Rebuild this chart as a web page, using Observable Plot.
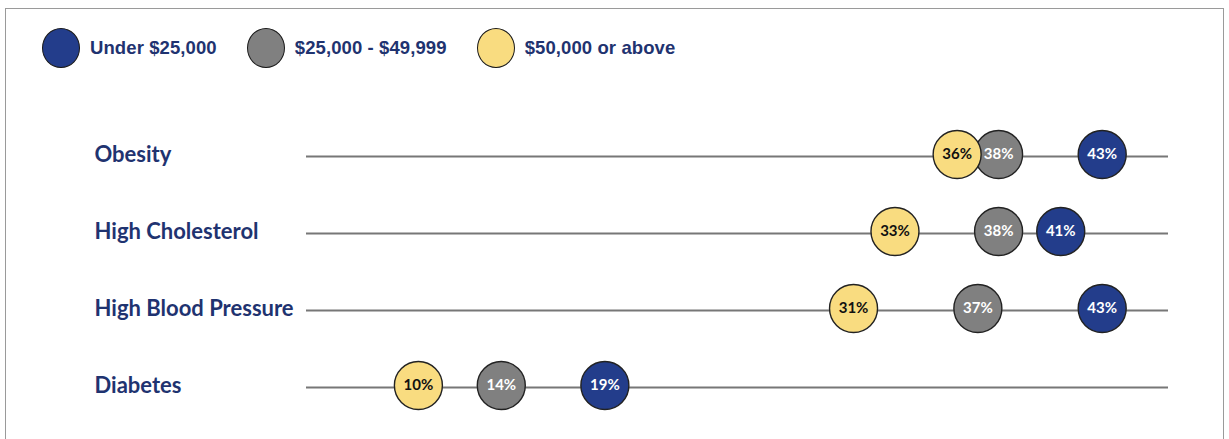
<!DOCTYPE html>
<html>
<head>
<meta charset="utf-8">
<script src="https://cdn.jsdelivr.net/npm/d3@7"></script>
<script src="https://cdn.jsdelivr.net/npm/@observablehq/plot@0.6"></script>
<style>
  html, body { margin: 0; padding: 0; background: #fff; width: 1229px; height: 439px; overflow: hidden; }
  #frame { position: absolute; left: 5px; top: 8px; width: 1217px; height: 440px; border: 1.5px solid #9a9a9a; border-bottom: none; }
  #legend { position: relative; height: 89px; display: flex; align-items: center; padding-left: 42px; box-sizing: border-box; padding-top: 6px; }
  .item { display: flex; align-items: center; margin-right: 30px; }
  .sw { width: 38px; height: 40px; border-radius: 50%; border: 1.5px solid #1a1a1a; box-sizing: border-box; margin-right: 10px; }
  .lab { font-family: "Liberation Sans", Arial, sans-serif; font-weight: bold; font-size: 18.5px; color: #1f3370; letter-spacing: 0.1px; }
  #chart { position: relative; }
</style>
</head>
<body>
<div id="frame"></div>
<div id="legend"></div>
<div id="chart"></div>
<script>
const categories = ["Obesity", "High Cholesterol", "High Blood Pressure", "Diabetes"];
const series = ["Under $25,000", "$25,000 - $49,999", "$50,000 or above"];
const under25 = [43, 41, 43, 19];
const mid25to50 = [38, 38, 37, 14];
const over50 = [36, 33, 31, 10];
const colors = ["#233d8b", "#808080", "#f9dc80"];
const textColors = ["#ffffff", "#ffffff", "#111111"];

const values = [under25, mid25to50, over50];
const data = [];
series.forEach((s, si) => {
  categories.forEach((c, ci) => {
    data.push({category: c, series: s, si, value: values[si][ci]});
  });
});

// Legend
const legend = document.getElementById("legend");
series.forEach((s, i) => {
  const item = document.createElement("div");
  item.className = "item";
  const sw = document.createElement("div");
  sw.className = "sw";
  sw.style.background = colors[i];
  const lab = document.createElement("span");
  lab.className = "lab";
  lab.textContent = s;
  item.appendChild(sw);
  item.appendChild(lab);
  legend.appendChild(item);
});

const chart = Plot.plot({
  width: 1229,
  height: 350,
  marginLeft: 306,
  marginRight: 61,
  marginTop: 66,
  marginBottom: 51,
  x: {domain: [4.6, 46.2], axis: null},
  y: {domain: categories, axis: null, padding: 0},
  color: {domain: series, range: colors},
  style: {background: "transparent", overflow: "visible"},
  marks: [
    Plot.ruleY(categories, {y: d => d, stroke: "#777777", strokeWidth: 2}),
    Plot.text(categories, {
      y: d => d, text: d => d, frameAnchor: "left", textAnchor: "start", dx: -212, dy: -2,
      fontFamily: "Lato, 'Open Sans', sans-serif", fontWeight: "bold", fontSize: 22, fill: "#1f3370"
    }),
    Plot.dot(data, {
      x: "value", y: "category", r: 24, fill: d => colors[d.si],
      stroke: "#222222", strokeWidth: 1.4, dy: -2
    }),
    Plot.text(data, {
      x: "value", y: "category", text: d => d.value + "%", dy: -2,
      fill: d => textColors[d.si], fontFamily: "Lato, sans-serif", fontWeight: "bold", fontSize: 15
    })
  ]
});
document.getElementById("chart").appendChild(chart);
</script>
</body>
</html>
